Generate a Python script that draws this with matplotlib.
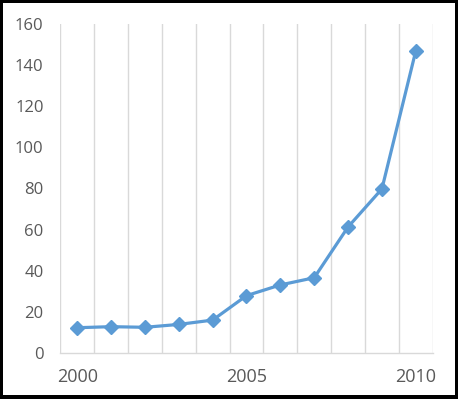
import matplotlib
matplotlib.use("Agg")
import matplotlib.pyplot as plt
from matplotlib.patches import Rectangle
import numpy as np

years = [2000, 2001, 2002, 2003, 2004, 2005, 2006, 2007, 2008, 2009, 2010]
values = [12.3, 12.8, 12.5, 13.9, 16.0, 27.9, 33.1, 36.6, 61.3, 79.8, 146.9]
shown_labels = {2000: "2000", 2005: "2005", 2010: "2010"}
y_ticks = [0, 20, 40, 60, 80, 100, 120, 140, 160]

W, H = 458, 399
fig = plt.figure(figsize=(W / 100, H / 100), dpi=100, facecolor="black")
fig.patches.append(Rectangle((3 / W, 4 / H), 452 / W, 392 / H, transform=fig.transFigure,
                             facecolor="white", edgecolor="none", zorder=-10))

ax = fig.add_axes([60.3 / W, 1 - 353 / H, (432.7 - 60.3) / W, (353 - 24) / H])
ax.set_facecolor("white")
ax.set_zorder(5)

pos = np.arange(len(years))
ax.plot(pos, values, color="#5B9BD5", linewidth=2.3, marker="D", markersize=6.8,
        markerfacecolor="#5B9BD5", markeredgecolor="#5B9BD5", zorder=3, clip_on=False)

ax.set_xlim(-0.5, len(years) - 0.5)
ax.set_ylim(0, 160)
ax.set_yticks(y_ticks)
ax.set_yticklabels([str(v) for v in y_ticks])

ax.set_xticks(pos)
ax.set_xticklabels([shown_labels.get(y, "") for y in years])
ax.set_xticks(np.arange(-0.5, len(years)), minor=True)
ax.grid(True, axis="x", which="minor", color="#D9D9D9", linewidth=1.0)
ax.grid(False, axis="x", which="major")

for s in ["top", "right", "left"]:
    ax.spines[s].set_visible(False)
ax.spines["bottom"].set_color("#D9D9D9")
ax.spines["bottom"].set_linewidth(1.0)

ax.tick_params(axis="both", which="both", length=0)
ax.tick_params(axis="y", pad=12, labelsize=12, labelcolor="#595959")
ax.tick_params(axis="x", pad=11, labelsize=13, labelcolor="#595959")
for lab in ax.get_xticklabels() + ax.get_yticklabels():
    lab.set_fontfamily("Open Sans")

fig.savefig("out.png", dpi=100, facecolor=fig.get_facecolor())
